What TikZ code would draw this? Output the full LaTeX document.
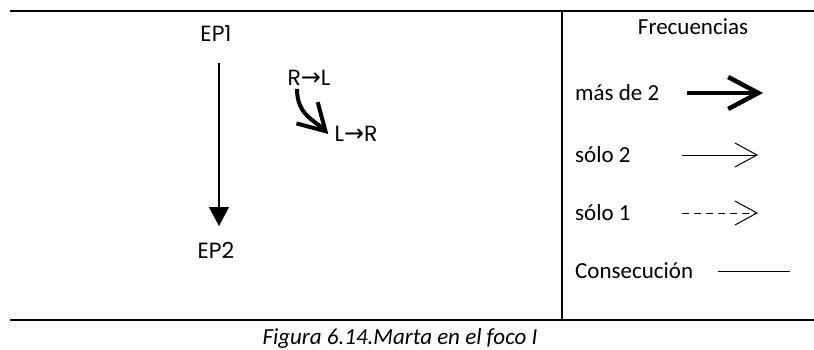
\documentclass[tikz,border=0pt]{standalone}
\usepackage{fontspec}
\setmainfont{Carlito}
\newfontfamily\epfont{Poppins}
\newfontfamily\symfont{DejaVu Sans}
\usetikzlibrary{positioning,arrows.meta}
\newcommand{\toarrow}{{\symfont\fontsize{24}{26}\selectfont\char"2192}}

\begin{document}
\begin{tikzpicture}[
  x=1pt, y=1pt,
  font=\fontsize{23}{27}\selectfont,
  epnode/.style = {font=\epfont\fontsize{22}{26}\selectfont, inner sep=0pt},
  legnode/.style = {anchor=west, inner sep=0pt},
  rule/.style = {line width=2.5pt},
  flowmain/.style = {-{Triangle[length=19pt,width=20pt]}, line width=1.5pt},
  freqthick/.style = {-{Straight Barb[length=30pt,width=32pt]}, line width=4.5pt},
  freqtwo/.style = {-{Straight Barb[length=22pt,width=24pt]}, line width=1pt},
  freqone/.style = {-{Straight Barb[length=22pt,width=24pt]}, line width=1pt,
                    dash pattern=on 7pt off 5pt},
  consec/.style = {line width=1pt},
]
\useasboundingbox (0,0) rectangle (814,349);

% ---------- frame ----------
\coordinate (tl) at (10,338);
\coordinate (tr) at (814,338);
\coordinate (bl) at (10,29);
\coordinate (br) at (814,29);
\coordinate (vt) at (562,338);
\coordinate (vb) at (562,29);
\draw[rule] (tl) -- (tr);
\draw[rule] (bl) -- (br);
\draw[line width=2pt] (vt) -- (vb);

% ---------- episodes ----------
\node[epnode] (ep1) at (216,315) {EP1};
\node[epnode] (ep2) at (216,99) {EP2};
\node[epnode] (rl) at (309,271) {R\toarrow L};
\node[epnode] (lr) at (356,215) {L\toarrow R};

\draw[flowmain] (219,286) -- (219,123);
\draw[freqthick, -{Straight Barb[length=26pt,width=30pt]}, line width=4pt]
  ([xshift=-12pt,yshift=-3pt]rl.south) .. controls +(0,-26) and +(-14,14) .. ([xshift=-6pt]lr.west);

% ---------- legend ----------
\node (freq) at (693,322) {Frecuencias};
\node[legnode] (mas) at (575,256) {más de 2};
\node[legnode] (solo2) at (575,194) {sólo 2};
\node[legnode] (solo1) at (575,136) {sólo 1};
\node[legnode] (cons) at (575,78) {Consecución};

\coordinate (masA) at (687,256);
\coordinate (masB) at (763,256);
\coordinate (dosA) at (682,194);
\coordinate (dosB) at (758,194);
\coordinate (unoA) at (682,136);
\coordinate (unoB) at (758,136);
\coordinate (conA) at (718,78);
\coordinate (conB) at (790,78);
\draw[freqthick] (masA) -- (masB);
\draw[freqtwo] (dosA) -- (dosB);
\draw[freqone] (unoA) -- (unoB);
\draw[consec] (conA) -- (conB);

% ---------- caption ----------
\node[font=\itshape\fontsize{23}{27}\selectfont] (cap) at (400,11) {Figura 6.14.Marta en el foco I};
\end{tikzpicture}
\end{document}
